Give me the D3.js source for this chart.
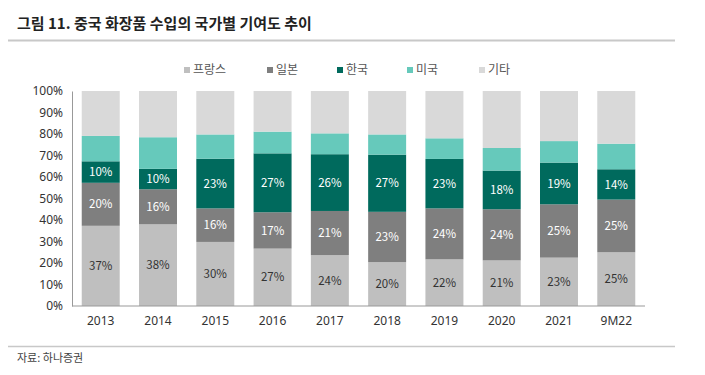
<!DOCTYPE html>
<html>
<head>
<meta charset="utf-8">
<script src="https://cdn.jsdelivr.net/npm/d3@7"></script>
<style>
  body { margin: 0; background: #fff; }
  svg { font-family: "Noto Sans CJK KR", "Noto Sans", sans-serif; }
</style>
</head>
<body>
<div id="chart"></div>
<script>
const years = ['2013', '2014', '2015', '2016', '2017', '2018', '2019', '2020', '2021', '9M22'];
const seriesNames = ['프랑스', '일본', '한국', '미국', '기타'];
// share of imports, %
const france = [37.3, 38.0, 29.8, 26.7, 23.7, 20.4, 21.7, 21.2, 22.5, 25.0];
const japan  = [20.0, 16.3, 15.6, 16.9, 20.5, 23.4, 23.7, 23.8, 24.8, 24.5];
const korea  = [10.0, 9.5, 23.1, 27.4, 26.4, 26.6, 23.0, 18.0, 19.4, 14.1];
const usa    = [11.8, 14.7, 11.3, 10.1, 9.7, 9.4, 9.6, 10.5, 10.0, 11.9];
const others = [20.9, 21.5, 20.2, 18.9, 19.7, 20.2, 22.0, 26.5, 23.3, 24.5];
const yTicks = [0, 10, 20, 30, 40, 50, 60, 70, 80, 90, 100];

const colors = ['#bfbfbf', '#7f7f7f', '#006a5d', '#66c9bb', '#d9d9d9'];
const labelColors = ['#333', '#fff', '#fff', null, null];

const width = 705, height = 375;
const margin = { top: 91, right: 60, bottom: 69, left: 72 };

const table = years.map((y, i) => ({
  year: y,
  '프랑스': france[i], '일본': japan[i], '한국': korea[i], '미국': usa[i], '기타': others[i]
}));

const svg = d3.select('#chart').append('svg')
  .attr('width', width)
  .attr('height', height);

// title + rules
svg.append('text')
  .attr('x', 17).attr('y', 29)
  .style('font-size', '15px').style('font-weight', 'bold').style('fill', '#222')
  .text('그림 11. 중국 화장품 수입의 국가별 기여도 추이');
svg.append('line')
  .attr('x1', 8).attr('x2', 675).attr('y1', 40.5).attr('y2', 40.5)
  .attr('stroke', '#c8c8c8').attr('stroke-width', 2);
svg.append('line')
  .attr('x1', 8).attr('x2', 675).attr('y1', 346.5).attr('y2', 346.5)
  .attr('stroke', '#c8c8c8').attr('stroke-width', 1.5);
svg.append('text')
  .attr('x', 17).attr('y', 362)
  .style('font-size', '11px').style('fill', '#444')
  .text('자료: 하나증권');

const x = d3.scaleBand()
  .domain(years)
  .range([margin.left, width - margin.right])
  .paddingInner(0.337)
  .paddingOuter(0.17);

const y = d3.scaleLinear()
  .domain([0, 100])
  .range([height - margin.bottom, margin.top]);

const stack = d3.stack().keys(seriesNames)(table);

const layers = svg.append('g').selectAll('g')
  .data(stack)
  .join('g')
  .attr('fill', (d, i) => colors[i]);

layers.selectAll('rect')
  .data(d => d)
  .join('rect')
  .attr('x', d => x(d.data.year))
  .attr('width', x.bandwidth())
  .attr('y', d => y(d[1]))
  .attr('height', d => y(d[0]) - y(d[1]));

// value labels for 프랑스, 일본, 한국
stack.forEach((layer, i) => {
  if (!labelColors[i]) return;
  svg.append('g').selectAll('text')
    .data(layer)
    .join('text')
    .attr('x', d => x(d.data.year) + x.bandwidth() / 2)
    .attr('y', d => y((d[0] + d[1]) / 2))
    .attr('dy', '0.36em')
    .attr('text-anchor', 'middle')
    .style('font-size', '11.5px')
    .style('fill', labelColors[i])
    .text(d => Math.round(d[1] - d[0]) + '%');
});

// axes
const yAxis = svg.append('g')
  .attr('transform', `translate(${margin.left},0)`)
  .call(d3.axisLeft(y).tickValues(yTicks).tickSize(0).tickPadding(9).tickFormat(d => d + '%'));
yAxis.select('.domain').attr('stroke', '#999');
yAxis.selectAll('text').style('font-size', '12px').style('fill', '#333')
  .style('font-family', '"Noto Sans", sans-serif');

const xAxis = svg.append('g')
  .attr('transform', `translate(0,${height - margin.bottom})`)
  .call(d3.axisBottom(x).tickSize(0).tickPadding(10).tickSizeOuter(0));
xAxis.select('.domain').attr('stroke', '#999').attr('d', `M${margin.left},0H${width - margin.right}`);
xAxis.selectAll('text').style('font-size', '12px').style('fill', '#333')
  .style('font-family', '"Noto Sans", sans-serif');

// legend
const legendX = [184, 267, 337, 407, 479];
const legend = svg.append('g').selectAll('g')
  .data(seriesNames)
  .join('g')
  .attr('transform', (d, i) => `translate(${legendX[i]},70)`);
legend.append('rect')
  .attr('x', 0).attr('y', -3).attr('width', 6).attr('height', 6)
  .attr('fill', (d, i) => colors[i]);
legend.append('text')
  .attr('x', 9).attr('y', 0).attr('dy', '0.36em')
  .style('font-size', '12px').style('fill', '#555')
  .text(d => d);
</script>
</body>
</html>
